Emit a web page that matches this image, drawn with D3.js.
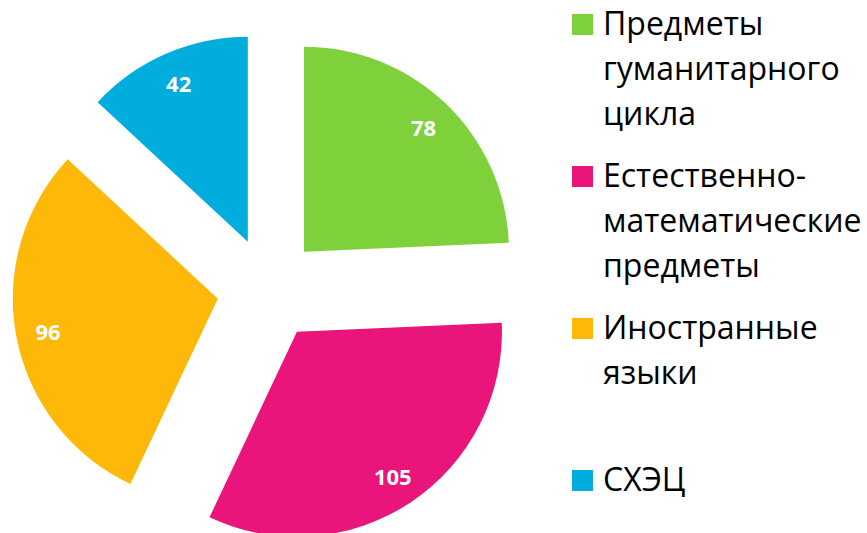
<!DOCTYPE html>
<html>
<head>
<meta charset="utf-8">
<script src="https://cdnjs.cloudflare.com/ajax/libs/d3/7.8.5/d3.min.js"></script>
<style>
  body { margin: 0; background: #fff; }
  svg { display: block; }
</style>
</head>
<body>
<svg id="chart" width="867" height="533"></svg>
<script>
  const categories = ["Предметы гуманитарного цикла", "Естественно-математические предметы", "Иностранные языки", "СХЭЦ"];
  const legendLines = [
    ["Предметы", "гуманитарного", "цикла"],
    ["Естественно-", "математические", "предметы"],
    ["Иностранные", "языки"],
    ["СХЭЦ"]
  ];
  const values = [78, 105, 96, 42];
  const colors = ["#7FD13B", "#EA157A", "#FEB80A", "#00ADDC"];

  const svg = d3.select("#chart");
  const cx = 268.4, cy = 288.9;
  const radius = 205;
  const explode = 51.5;
  const labelR = 173;

  const data = categories.map((c, i) => ({ name: c, value: values[i], color: colors[i] }));
  const pie = d3.pie().sort(null).value(d => d.value);
  const arc = d3.arc().innerRadius(0).outerRadius(radius);
  const arcs = pie(data);

  const g = svg.append("g").attr("transform", `translate(${cx},${cy})`);

  const slice = g.selectAll("g.slice")
    .data(arcs)
    .join("g")
    .attr("class", "slice")
    .attr("transform", d => {
      const a = (d.startAngle + d.endAngle) / 2;
      return `translate(${explode * Math.sin(a)},${-explode * Math.cos(a)})`;
    });

  slice.append("path")
    .attr("d", arc)
    .attr("fill", d => d.data.color);

  slice.append("text")
    .attr("x", d => labelR * Math.sin((d.startAngle + d.endAngle) / 2))
    .attr("y", d => -labelR * Math.cos((d.startAngle + d.endAngle) / 2))
    .attr("text-anchor", "middle")
    .attr("dominant-baseline", "central")
    .attr("fill", "#fff")
    .attr("font-family", "'Open Sans', sans-serif")
    .attr("font-weight", "bold")
    .attr("font-size", 22)
    .text(d => d.data.value);

  // legend
  const legend = svg.append("g").attr("transform", "translate(572,0)");
  const entryStep = 152, lineStep = 45, firstBase = 35;
  const item = legend.selectAll("g.item")
    .data(data)
    .join("g")
    .attr("class", "item")
    .attr("transform", (d, i) => `translate(0,${firstBase + i * entryStep})`);

  item.append("rect")
    .attr("x", 0).attr("y", -21)
    .attr("width", 21).attr("height", 21)
    .attr("fill", d => d.color);

  item.append("text")
    .attr("font-family", "'Open Sans', sans-serif")
    .attr("font-size", 32)
    .attr("fill", "#000")
    .selectAll("tspan")
    .data((d, i) => legendLines[i])
    .join("tspan")
    .attr("x", 31)
    .attr("y", (t, j) => j * lineStep)
    .text(t => t);
</script>
</body>
</html>
